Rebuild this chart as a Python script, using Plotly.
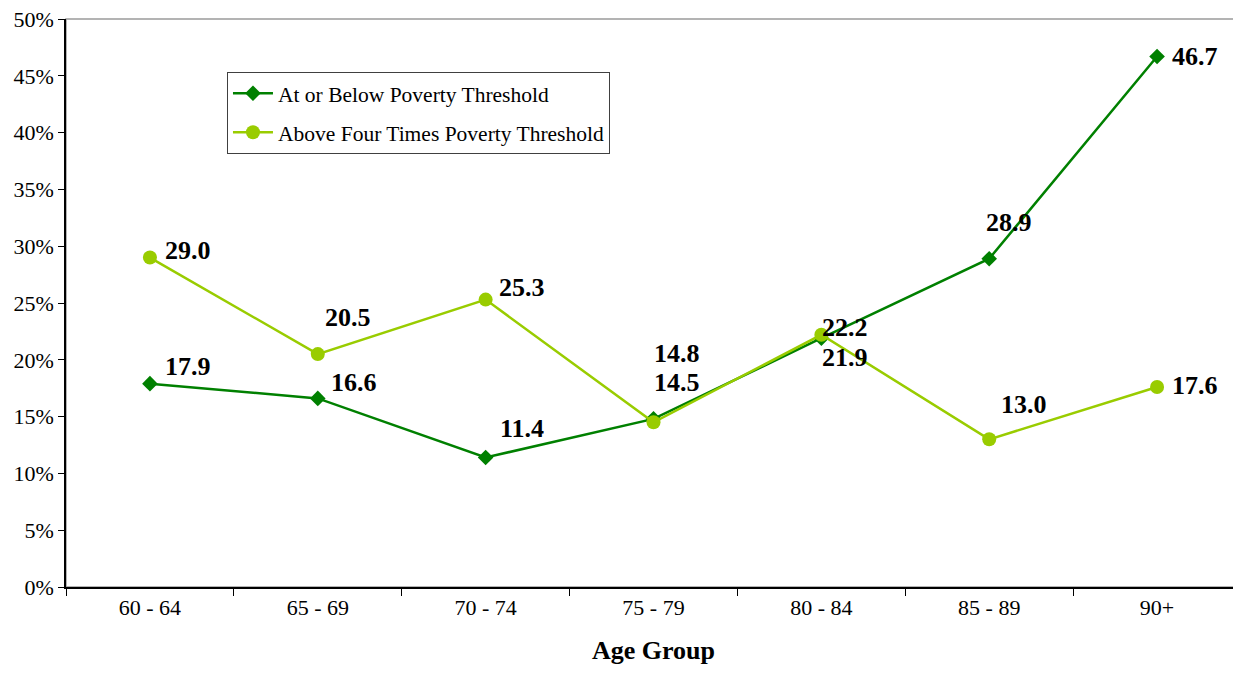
import plotly.graph_objects as go

age_groups = ["60 - 64", "65 - 69", "70 - 74", "75 - 79", "80 - 84", "85 - 89", "90+"]
below_poverty = [17.9, 16.6, 11.4, 14.8, 21.9, 28.9, 46.7]
above_four_times = [29.0, 20.5, 25.3, 14.5, 22.2, 13.0, 17.6]

# pixel offsets of each value label from its point
below_offsets = [(38, -17), (36, -16), (36, -29), (23, -65), (24, 19), (20, -36), (38, 0)]
above_offsets = [(38, -7), (30, -37), (36, -12), (23, -40), (24, -7), (35, -35), (38, -2)]

GREEN = "#008000"
LIME = "#99CC00"
FONT = "Liberation Serif"

fig = go.Figure()
fig.add_trace(go.Scatter(
    x=age_groups, y=below_poverty, mode="lines+markers",
    name="At or Below Poverty Threshold", legendgroup="a",
    line=dict(color=GREEN, width=2.5),
    marker=dict(symbol="diamond", size=12, color=GREEN),
))
fig.add_trace(go.Scatter(
    x=age_groups, y=above_four_times, mode="lines+markers",
    name="Above Four Times Poverty Threshold", legendgroup="b",
    line=dict(color=LIME, width=2.5),
    marker=dict(symbol="circle", size=14, color=LIME),
))

for values, offsets in ((below_poverty, below_offsets), (above_four_times, above_offsets)):
    for cat, v, (dx, dy) in zip(age_groups, values, offsets):
        fig.add_annotation(
            x=cat, y=v, text=f"<b>{v:.1f}</b>", showarrow=False,
            xshift=dx, yshift=-dy,
            font=dict(family=FONT, size=26, color="black"),
        )

# plot-area border (grey) behind the black axes
fig.add_shape(type="rect", xref="paper", yref="paper", x0=0, y0=0, x1=1, y1=1,
              line=dict(color="#9a9a9a", width=1.5), layer="below")

fig.update_layout(
    width=1233, height=669,
    margin=dict(l=58, r=0, t=11, b=90),
    paper_bgcolor="white", plot_bgcolor="white",
    font=dict(family=FONT, size=22, color="black"),
    showlegend=True,
    legend=dict(
        x=0.137, y=0.907, xanchor="left", yanchor="top",
        bgcolor="white", bordercolor="#404040", borderwidth=1,
        font=dict(family=FONT, size=21.5, color="black"),
        itemwidth=40, tracegroupgap=8,
    ),
)
fig.update_xaxes(
    type="category", tickson="boundaries", range=[-0.5, 6.5],
    showline=True, linecolor="black", linewidth=1.5,
    ticks="outside", ticklen=7, tickcolor="black",
    showgrid=False, zeroline=False, automargin=False,
    tickfont=dict(family=FONT, size=22),
    title=dict(text="<b>Age Group</b>", font=dict(family=FONT, size=26), standoff=22),
)
fig.update_yaxes(
    range=[0, 50], dtick=5, ticksuffix="%",
    showline=True, linecolor="black", linewidth=1.5,
    ticks="outside", ticklen=6, tickcolor="black",
    showgrid=False, zeroline=False, automargin=False,
    ticklabeloverflow="allow",
    tickfont=dict(family=FONT, size=22),
)

fig.write_html("out.html")
